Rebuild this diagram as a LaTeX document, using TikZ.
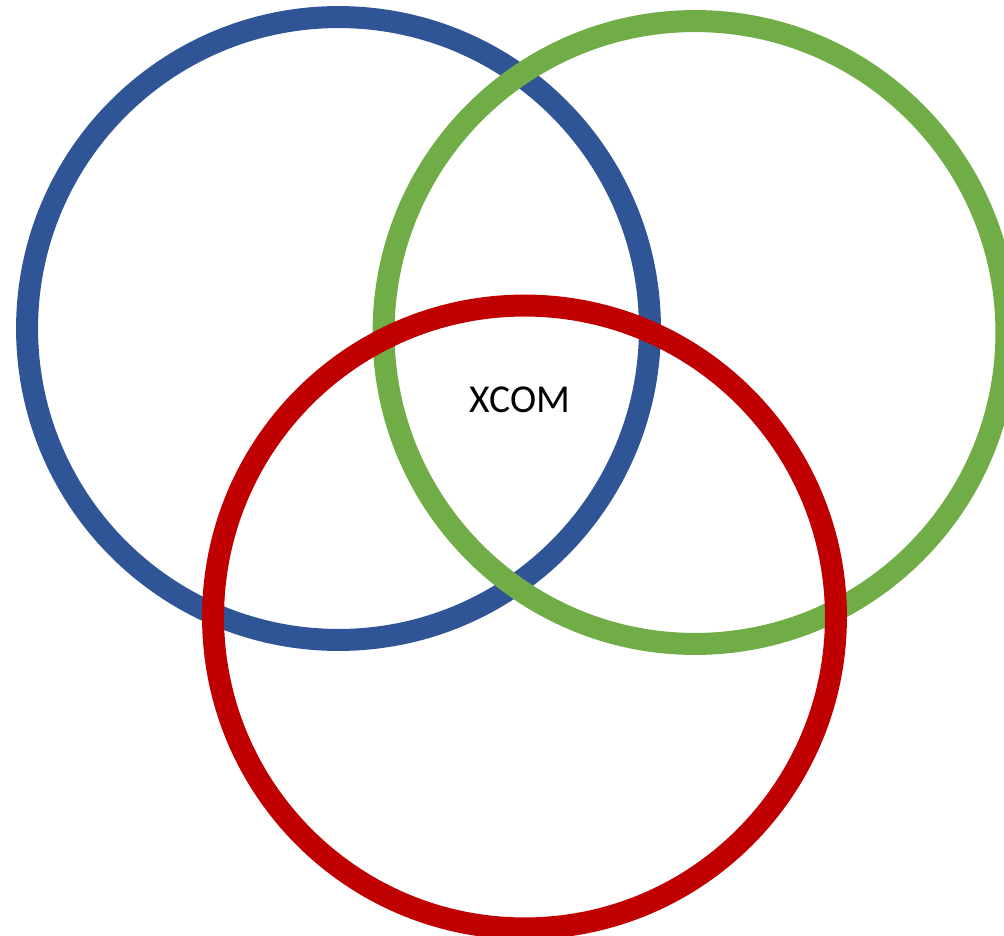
\documentclass[tikz,border=0pt]{standalone}
\usepackage{fontspec}
\setmainfont{Carlito}
\definecolor{ringblue}{HTML}{2F5597}
\definecolor{ringgreen}{HTML}{70AD47}
\definecolor{ringred}{HTML}{C00000}
\tikzset{ring/.style={circle,draw=#1,line width=.44cm,minimum size=12.46cm,inner sep=0pt},label/.style={font=\fontsize{22.5}{27}\selectfont}}
\begin{document}
\begin{tikzpicture}[x=.02cm,y=-.02cm]
\useasboundingbox (0,0) rectangle (1004,936);\clip (0,0) rectangle (1004,936);
\node[ring=ringblue] (blue) at (338.5,328.5){};\node[ring=ringgreen] (green) at (695,332.5){};\node[ring=ringred] (red) at (524.5,617){};
\node[label] (xcom) at (520,400){XCOM};
\end{tikzpicture}
\end{document}
